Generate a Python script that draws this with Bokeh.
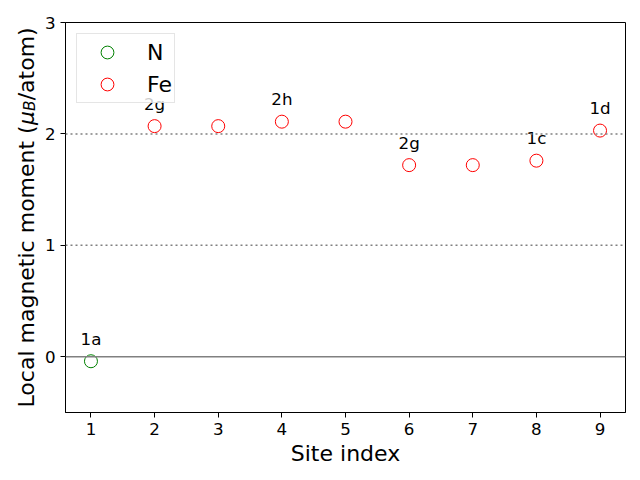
import math
from bokeh.plotting import figure
from bokeh.layouts import row
from bokeh.models import Span, Range1d, FixedTicker, Legend, LegendItem, ColumnDataSource
from bokeh.embed import file_html
from bokeh.resources import INLINE
from bokeh.core.properties import value

# Data
n_sites = [1]
n_moments = [-0.04]
fe_sites = [2, 3, 4, 5, 6, 7, 8, 9]
fe_moments = [2.07, 2.07, 2.11, 2.11, 1.72, 1.72, 1.76, 2.03]
label_sites = [1, 2, 4, 6, 8, 9]
label_moments = [-0.04, 2.07, 2.11, 1.72, 1.76, 2.03]
label_texts = ["1a", "2g", "2h", "2g", "1c", "1d"]
label_offset = 0.2
x_ticks = [1, 2, 3, 4, 5, 6, 7, 8, 9]
y_ticks = [0, 1, 2, 3]
ylabel_pieces = ["Local magnetic moment (", "\u03bc", "B", "/atom)"]

FONT = "DejaVu Sans"
H = 480
LW = 40          # width of the strip holding the y-axis label
W = 640 - LW
FL, FR, FT, FB = 65 - LW, 15, 22, 68

# ---- strip with the y-axis title (mu_B written like mathtext) ----
# its frame is aligned with the main plot's frame (rows align frames),
# so the y range is expressed in page pixels from FT to H-FB
lab = figure(width=LW, height=H, output_backend="svg", toolbar_location=None,
             x_range=Range1d(0, LW), y_range=Range1d(H - FB, FT),
             x_axis_type=None, y_axis_type=None,
             min_border_left=0, min_border_right=0, min_border_top=FT, min_border_bottom=FB)
lab.xgrid.visible = False
lab.ygrid.visible = False
lab.outline_line_color = None
lab.background_fill_color = "white"
lab.border_fill_color = "white"

base_px = 26
start_py = 407
fs = 22.0
sizes = [fs, fs, fs * 0.7, fs]
styles = ["normal", "italic", "italic", "normal"]
drops = [0, 0, 3, 0]
advances = [12.846, 0.636, 0.686, 3.318]   # em widths in DejaVu Sans
cur = start_py
for txt, size, style, drop, adv in zip(ylabel_pieces, sizes, styles, drops, advances):
    lab.text(x=[base_px + drop], y=[cur], text=[txt], angle=math.pi / 2,
             text_align="left", text_baseline="alphabetic",
             text_font=value(FONT), text_font_size=f"{size:.1f}px",
             text_font_style=style, text_color="black")
    cur -= adv * size

# ---- main plot ----
p = figure(width=W, height=H, output_backend="svg", toolbar_location=None,
           x_range=Range1d(0.6, 9.4), y_range=Range1d(-0.5, 3.0),
           min_border_left=FL, min_border_right=FR, min_border_top=FT, min_border_bottom=FB)

p.xgrid.visible = False
p.ygrid.visible = False
p.outline_line_color = "black"
p.outline_line_width = 1
p.background_fill_color = "white"
p.border_fill_color = "white"

for ax in (p.xaxis[0], p.yaxis[0]):
    ax.major_tick_out = 5
    ax.major_tick_in = 0
    ax.minor_tick_out = 0
    ax.minor_tick_in = 0
    ax.major_label_text_font = FONT
    ax.major_label_text_font_size = "16.7px"
    ax.major_label_text_color = "black"
    ax.axis_label_text_font = FONT
    ax.axis_label_text_font_size = "22px"
    ax.axis_label_text_font_style = "normal"
    ax.axis_label_text_color = "black"
    ax.axis_line_color = "black"
    ax.major_label_standoff = 5

p.xaxis.ticker = FixedTicker(ticks=x_ticks)
p.yaxis.ticker = FixedTicker(ticks=y_ticks)
p.xaxis.axis_label = "Site index"
p.xaxis.axis_label_standoff = 3

p.add_layout(Span(location=0, dimension="width", line_color="gray", line_width=1.5))
p.add_layout(Span(location=1, dimension="width", line_color="gray", line_width=1.5, line_dash="2 3"))
p.add_layout(Span(location=2, dimension="width", line_color="gray", line_width=1.5, line_dash="2 3"))

rn = p.scatter(n_sites, n_moments, marker="circle", size=13, fill_color=None,
               line_color="green", line_width=1)
rf = p.scatter(fe_sites, fe_moments, marker="circle", size=13, fill_color=None,
               line_color="red", line_width=1)

src = ColumnDataSource(dict(x=label_sites,
                            y=[m + label_offset for m in label_moments],
                            t=label_texts))
p.text(x="x", y="y", text="t", source=src, text_align="center",
       text_baseline="alphabetic", text_font=value(FONT), text_font_size="16.7px",
       text_color="black")

legend = Legend(items=[LegendItem(label="N", renderers=[rn]),
                       LegendItem(label="Fe", renderers=[rf])],
                location="top_left")
legend.label_text_font = FONT
legend.label_text_font_size = "22px"
legend.label_text_color = "black"
legend.border_line_color = "#cccccc"
legend.border_line_width = 1
legend.background_fill_color = "white"
legend.background_fill_alpha = 0.8
legend.margin = 11
legend.padding = 2
legend.spacing = 0
legend.glyph_width = 56
legend.glyph_height = 32
legend.label_height = 32
legend.label_standoff = 12
p.add_layout(legend)

layout = row(lab, p, spacing=0)
open("out.html", "w").write(file_html(layout, INLINE))
